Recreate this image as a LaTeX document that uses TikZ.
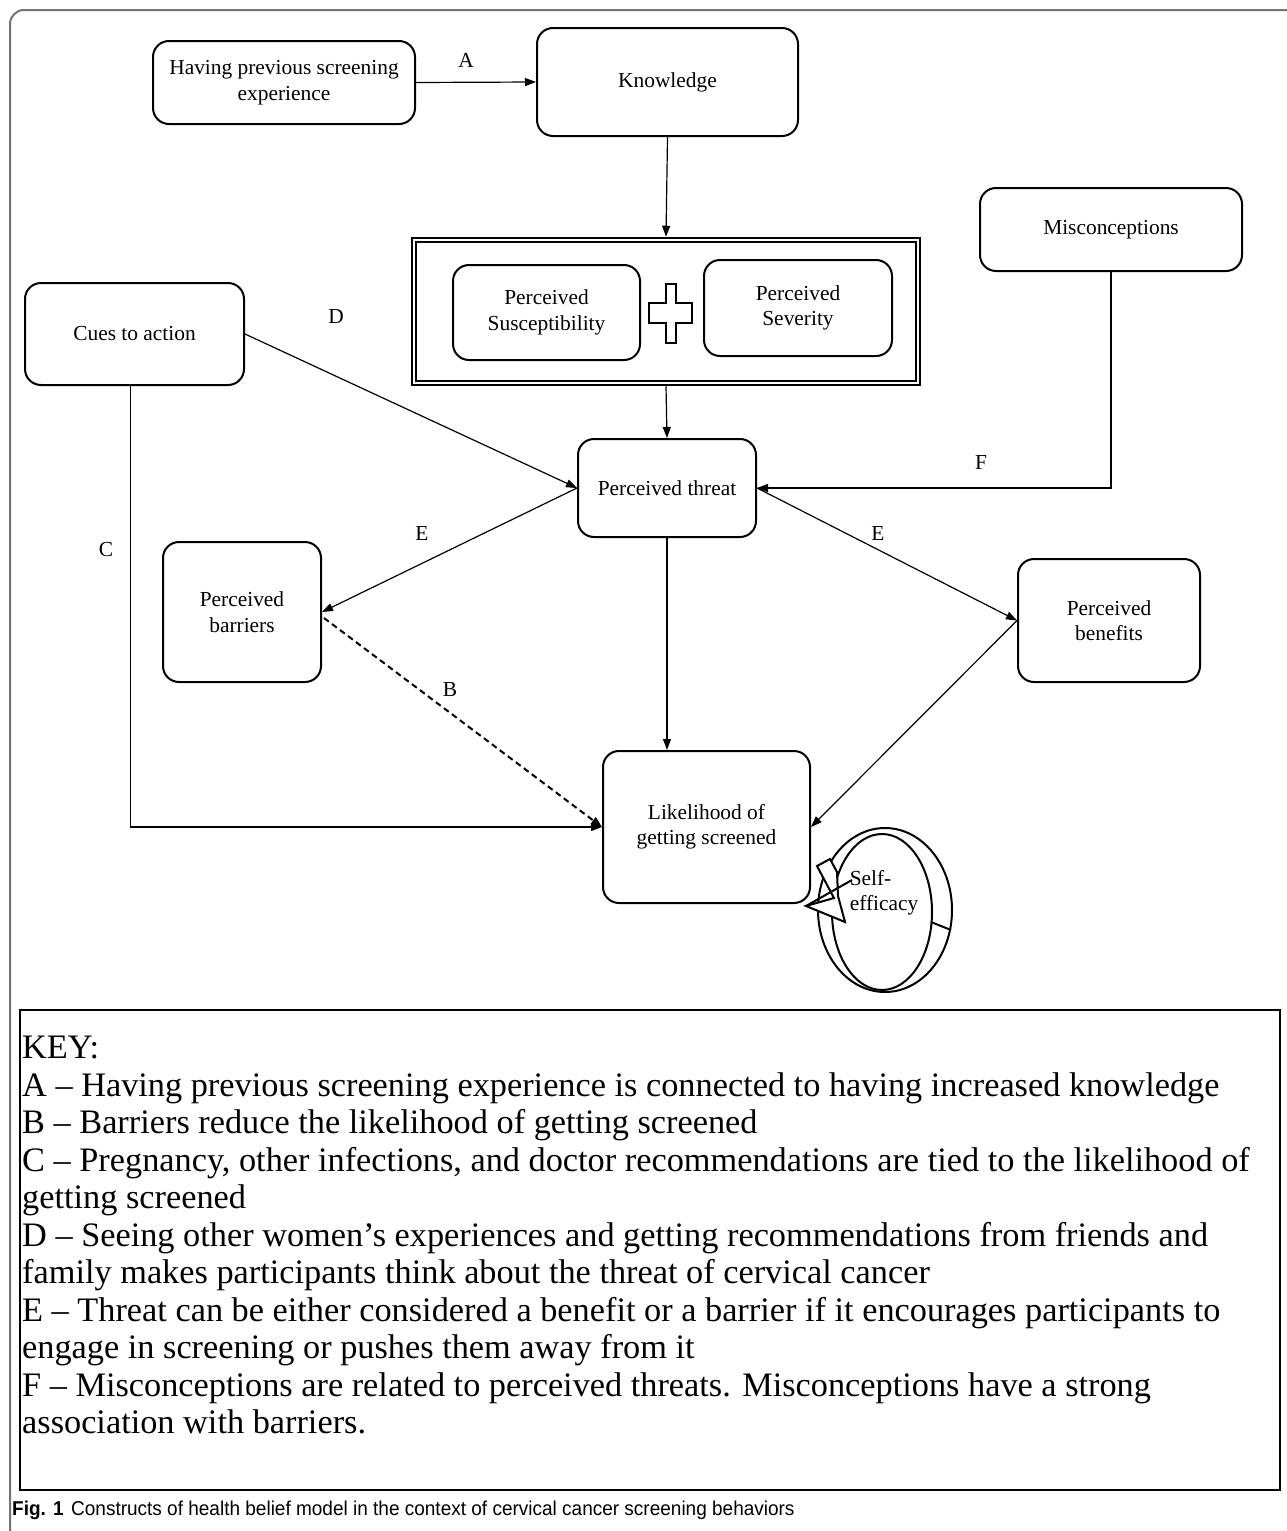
\documentclass[tikz,border=0pt]{standalone}
\usepackage{fontspec}
\usepackage{graphicx}
\setmainfont{Liberation Serif}
\setsansfont{Liberation Sans}
\usetikzlibrary{arrows.meta,calc}
\newcommand\boxfont{\fontsize{21.4}{25.5}\selectfont}
\newcommand\keyfont{\fontsize{34.3}{37.5}\selectfont}
\begin{document}
\begin{tikzpicture}[x=1pt,y=-1pt,
  box/.style={draw,line width=2pt,rounded corners=16pt,align=center,font=\boxfont,inner sep=2pt},
  con/.style={line width=1.2pt},
  arr/.style={con,-{Triangle[length=11pt,width=8pt]}},
  lab/.style={font=\boxfont,inner sep=0pt}]
\useasboundingbox (0,0) rectangle (1287,1531);
\fill[white] (0,0) rectangle (1287,1531);
\draw[line width=2pt,color=black!55,rounded corners=14pt] (10,1560) -- (10,10) -- (1310,10);

% nodes
\node[box,minimum width=262pt,minimum height=83pt] (prev) at (284,82.5) {Having previous screening\\experience};
\node[box,minimum width=261pt,minimum height=108pt] (know) at (667.5,82) {Knowledge};
\node[draw,line width=2.5pt,minimum width=508pt,minimum height=147pt] (dbl) at (666,311.5) {};
\draw[line width=2pt] ($(dbl.south west)+(5,-5)$) rectangle ($(dbl.north east)+(-5,5)$);
\node[box,minimum width=187pt,minimum height=95pt] (susc) at (546.5,312.5) {Perceived\\Susceptibility};
\node[box,minimum width=188pt,minimum height=96pt] (sev) at (798,308) {Perceived\\Severity};
\draw[line width=2pt,fill=white] (666,284) -- (676,284) -- (676,303) -- (692,303) -- (692,323) -- (676,323) -- (676,343) -- (666,343) -- (666,323) -- (649,323) -- (649,303) -- (666,303) -- cycle;
\node[box,minimum width=219pt,minimum height=102pt] (cues) at (134.5,334) {Cues to action};
\node[box,minimum width=262pt,minimum height=83pt] (misc) at (1111,229.5) {Misconceptions};
\node[box,minimum width=178pt,minimum height=98pt] (threat) at (667,488) {Perceived threat};
\node[box,minimum width=158pt,minimum height=140pt] (barr) at (242,612) {Perceived\\barriers};
\node[box,minimum width=182pt,minimum height=123pt] (bene) at (1109,620.5) {Perceived\\benefits};
\node[box,minimum width=207pt,minimum height=152pt] (like) at (706.5,827) {Likelihood of\\getting screened};

% connectors
\draw[arr] (prev.east) -- (know.west);
\draw[arr] (know.south) -- (dbl.north);
\draw[arr] (dbl.south) -- (threat.north);
\draw[arr] (cues.east) -- (threat.west);
\draw[arr] (misc.south) |- (threat.east);
\draw[arr] (threat.west) -- (barr.east);
\draw[arr] (threat.east) -- (bene.west);
\draw[arr] (threat.south) -- (threat.south |- like.north);
\draw[arr] (bene.west) -- (like.east);
\draw[arr,line width=2pt,dash pattern=on 6pt off 4pt] ($(barr.east)+(2,6)$) -- (like.west);
\draw[arr] ([xshift=-4pt]cues.south) |- (like.west);

% labels
\node[lab] (la) at (466,60) {A};
\node[lab] (ld) at (336,317) {D};
\node[lab] (lf) at (981,462) {F};
\node[lab] (le1) at (422,533) {E};
\node[lab] (le2) at (878,533) {E};
\node[lab] (lc) at (106,550) {C};
\node[lab] (lb) at (450,690) {B};

% self-efficacy circular arrow
\draw[line width=2pt,fill=white] (885,910) ellipse [x radius=67,y radius=82];
\draw[line width=2pt] (882,912) ellipse [x radius=50,y radius=78];
\draw[line width=2pt] (931,922) -- (951,930);
\filldraw[line width=2pt,fill=white] (830,859) -- (817,866) -- (834,898) -- (806,906) -- (845,922) -- (838,896) -- (837,872) -- cycle;
\draw[line width=2pt] (806,906) -- (852,880);
\node[font=\boxfont,align=left,inner sep=0pt] (self) at (884,893) {Self-\\efficacy};

% key
\draw[line width=2.5pt] (20,1010) rectangle (1280,1490);
\node[anchor=north west,align=left,inner sep=0pt,font=\keyfont] (key) at (22,1036) {KEY:\\
A -- Having previous screening experience is connected to having increased knowledge\\
B -- Barriers reduce the likelihood of getting screened\\
C -- Pregnancy, other infections, and doctor recommendations are tied to the likelihood of\\
getting screened\\
D -- Seeing other women’s experiences and getting recommendations from friends and\\
family makes participants think about the threat of cervical cancer\\
E -- Threat can be either considered a benefit or a barrier if it encourages participants to\\
engage in screening or pushes them away from it\\
F -- Misconceptions are related to perceived threats. Misconceptions have a strong\\
association with barriers.};

% caption
\node[anchor=west,inner sep=0pt] (cap) at (12,1510) {\sffamily\fontsize{20}{22}\selectfont\scalebox{0.95}[1]{\textbf{Fig. 1}\hspace{8pt}Constructs of health belief model in the context of cervical cancer screening behaviors}};
\end{tikzpicture}
\end{document}
